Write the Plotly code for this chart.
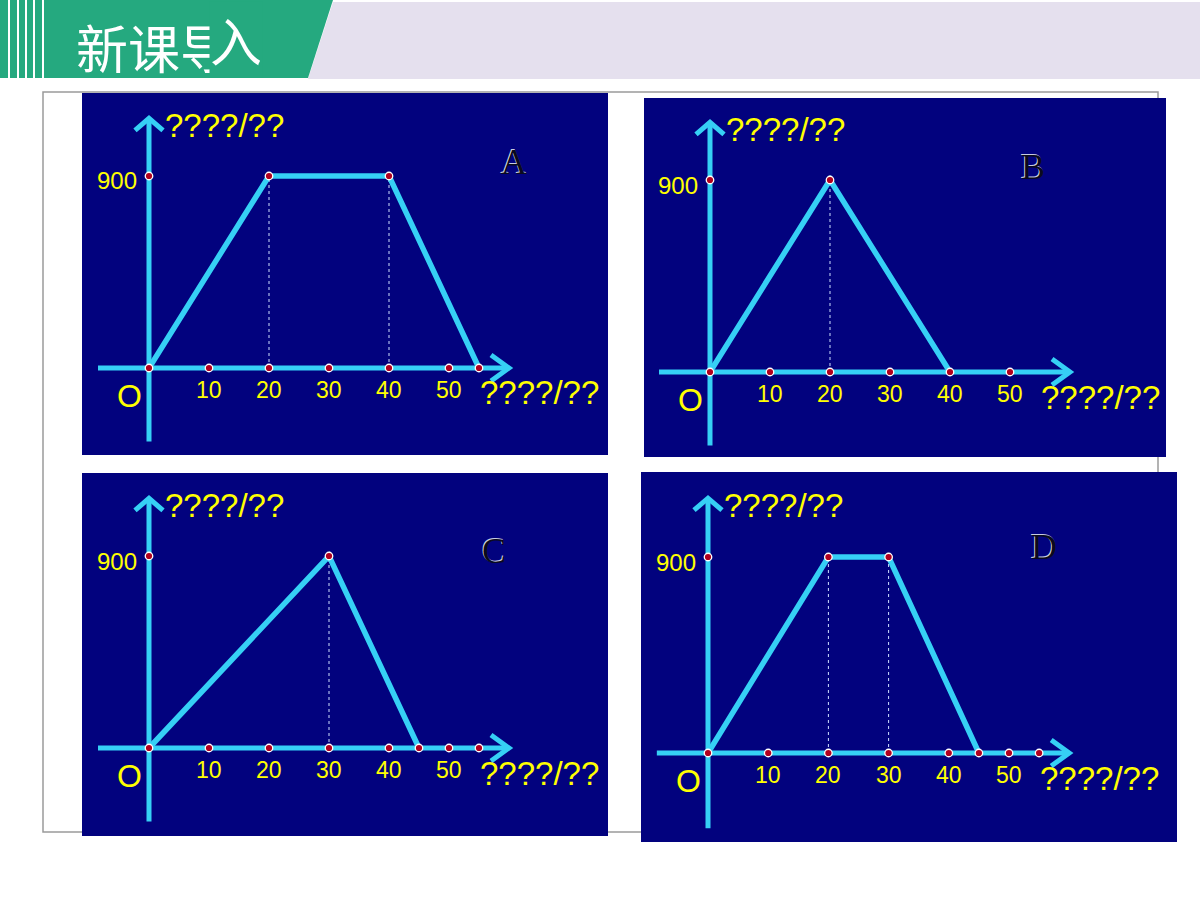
import plotly.graph_objects as go

W, H = 1200, 900

# ---------------- data ----------------
panel_names = ["A", "B", "C", "D"]
A_time = [0, 20, 40, 55]
A_dist = [0, 900, 900, 0]
B_time = [0, 20, 40]
B_dist = [0, 900, 0]
C_time = [0, 30, 45]
C_dist = [0, 900, 0]
D_time = [0, 20, 30, 45]
D_dist = [0, 900, 900, 0]
A_axis_dots = [0, 10, 20, 30, 40, 50, 55]
B_axis_dots = [0, 10, 20, 30, 40, 50]
C_axis_dots = [0, 10, 20, 30, 40, 45, 50, 55]
D_axis_dots = [0, 10, 20, 30, 40, 45, 50, 55]
A_guides = [20, 40]
B_guides = [20]
C_guides = [30]
D_guides = [20, 30]
x_tick_labels = [10, 20, 30, 40, 50]
y_tick_value = 900
y_axis_label = "????/??"
x_axis_label = "????/??"
origin_label = "O"
title_main = "新课导"
title_last = "入"

series = {
    "A": (A_time, A_dist, A_axis_dots, A_guides),
    "B": (B_time, B_dist, B_axis_dots, B_guides),
    "C": (C_time, C_dist, C_axis_dots, C_guides),
    "D": (D_time, D_dist, D_axis_dots, D_guides),
}

# ---------------- layout geometry (pixels) ----------------
geom = {
    "A": dict(rect=(82, 93, 608, 455), o=(149, 368), sx=6.0, sy=192 / 900, letter=(514, 162)),
    "B": dict(rect=(644, 98, 1166, 457), o=(710, 372), sx=6.0, sy=192 / 900, letter=(1033, 167)),
    "C": dict(rect=(82, 473, 608, 836), o=(149, 748), sx=6.0, sy=192 / 900, letter=(494, 551)),
    "D": dict(rect=(641, 472, 1177, 842), o=(708, 753), sx=6.02, sy=196 / 900, letter=(1044, 547)),
}
X_AX_MIN, X_AX_MAX = -8.5, 60
Y_AX_MIN, Y_AX_MAX = -345, 1170

NAVY = "#02027E"
CYAN = "#36D0F5"
YELLOW = "#FFFF00"
DOT = "#B0001E"
GREEN = "#25A97F"
LAV = "#E5E0EE"
SANS = "Liberation Sans, Arial, sans-serif"
SERIF = "Liberation Serif, Times New Roman, serif"
CJK = "Noto Sans CJK SC, sans-serif"


def px(x):
    return x / W


def py(y):
    return 1 - y / H


fig = go.Figure()
shapes = []
annotations = []

# header
shapes.append(dict(type="path", xref="paper", yref="paper", layer="below",
                   path=f"M {px(333)},{py(2)} L {px(1200)},{py(2)} L {px(1200)},{py(79)} L {px(308)},{py(79)} Z",
                   fillcolor=LAV, line=dict(width=0)))
shapes.append(dict(type="path", xref="paper", yref="paper", layer="below",
                   path=f"M 0,{py(0)} L {px(333)},{py(0)} L {px(308)},{py(78)} L 0,{py(78)} Z",
                   fillcolor=GREEN, line=dict(width=0)))
for sxp in [8, 17, 25, 33, 42]:
    shapes.append(dict(type="rect", xref="paper", yref="paper", layer="below",
                       x0=px(sxp), x1=px(sxp + 2), y0=py(0), y1=py(78),
                       fillcolor="white", line=dict(width=0)))
# frame
shapes.append(dict(type="rect", xref="paper", yref="paper", layer="below",
                   x0=px(43), x1=px(1158), y0=py(832), y1=py(92),
                   fillcolor="rgba(0,0,0,0)", line=dict(color="#9a9a9a", width=1.5)))

annotations.append(dict(xref="paper", yref="paper", x=px(74), y=py(47), xanchor="left", yanchor="middle",
                        text=title_main, showarrow=False,
                        font=dict(family=CJK, size=52, color="white")))
annotations.append(dict(xref="paper", yref="paper", x=px(236), y=py(78), xanchor="center", yanchor="bottom",
                        text=title_last, showarrow=False, bgcolor=GREEN, borderpad=0,
                        font=dict(family=CJK, size=52, color="white")))

layout_axes = {}
for i, name in enumerate(panel_names):
    g = geom[name]
    x0, y0, x1, y1 = g["rect"]
    ox, oy = g["o"]
    sx, sy = g["sx"], g["sy"]
    times, dists, axis_dots, guides = series[name]
    xa = "x" if i == 0 else f"x{i + 1}"
    ya = "y" if i == 0 else f"y{i + 1}"
    xkey = "xaxis" if i == 0 else f"xaxis{i + 1}"
    ykey = "yaxis" if i == 0 else f"yaxis{i + 1}"

    shapes.append(dict(type="rect", xref="paper", yref="paper", layer="below",
                       x0=px(x0), x1=px(x1), y0=py(y1), y1=py(y0),
                       fillcolor=NAVY, line=dict(width=0)))

    layout_axes[xkey] = dict(domain=[px(x0), px(x1)], range=[(x0 - ox) / sx, (x1 - ox) / sx],
                             visible=False, fixedrange=True, anchor=ya)
    layout_axes[ykey] = dict(domain=[py(y1), py(y0)], range=[-(y1 - oy) / sy, (oy - y0) / sy],
                             visible=False, fixedrange=True, anchor=xa)

    gx, gy = [], []
    for t in guides:
        gx += [t, t, None]
        gy += [0, y_tick_value, None]
    fig.add_trace(go.Scatter(x=gx, y=gy, mode="lines", xaxis=xa, yaxis=ya,
                             line=dict(color="#CFE0FF", width=1, dash="dot"),
                             hoverinfo="skip", showlegend=False))
    fig.add_trace(go.Scatter(x=[X_AX_MIN, X_AX_MAX, None, 0, 0], y=[0, 0, None, Y_AX_MIN, Y_AX_MAX],
                             mode="lines", xaxis=xa, yaxis=ya,
                             line=dict(color=CYAN, width=5), hoverinfo="skip", showlegend=False))
    ax_dx, ax_dy = 18 / sx, 13 / sy
    ay_dx, ay_dy = 14 / sx, 12 / sy
    fig.add_trace(go.Scatter(
        x=[X_AX_MAX - ax_dx, X_AX_MAX, X_AX_MAX - ax_dx, None, -ay_dx, 0, ay_dx],
        y=[ax_dy, 0, -ax_dy, None, Y_AX_MAX - ay_dy, Y_AX_MAX, Y_AX_MAX - ay_dy],
        mode="lines", xaxis=xa, yaxis=ya,
        line=dict(color=CYAN, width=5), hoverinfo="skip", showlegend=False))
    fig.add_trace(go.Scatter(x=times, y=dists, mode="lines", xaxis=xa, yaxis=ya,
                             line=dict(color=CYAN, width=5.5), name=name, showlegend=False))
    dx = list(axis_dots) + [0] + [t for t, d in zip(times, dists) if d == y_tick_value]
    dy = [0] * len(axis_dots) + [y_tick_value] + [d for d in dists if d == y_tick_value]
    fig.add_trace(go.Scatter(x=dx, y=dy, mode="markers", xaxis=xa, yaxis=ya,
                             marker=dict(color=DOT, size=7.5, line=dict(color="white", width=1.3)),
                             hoverinfo="skip", showlegend=False))

    annotations.append(dict(xref=xa, yref=ya, x=0, y=Y_AX_MAX, xanchor="left", yanchor="middle",
                            xshift=14, yshift=-7, text=y_axis_label, showarrow=False,
                            font=dict(family=SANS, size=33, color=YELLOW)))
    annotations.append(dict(xref=xa, yref=ya, x=X_AX_MAX, y=0, xanchor="left", yanchor="middle",
                            xshift=-31, yshift=-25, text=x_axis_label, showarrow=False,
                            font=dict(family=SANS, size=33, color=YELLOW)))
    for t in x_tick_labels:
        annotations.append(dict(xref=xa, yref=ya, x=t, y=0, xanchor="center", yanchor="middle",
                                yshift=-22, text=str(t), showarrow=False,
                                font=dict(family=SANS, size=23, color=YELLOW)))
    annotations.append(dict(xref=xa, yref=ya, x=0, y=y_tick_value, xanchor="right", yanchor="middle",
                            xshift=-10, yshift=-5, text=str(y_tick_value), showarrow=False,
                            font=dict(family=SANS, size=24, color=YELLOW)))
    annotations.append(dict(xref=xa, yref=ya, x=0, y=0, xanchor="center", yanchor="middle",
                            xshift=-20, yshift=-28, text=origin_label, showarrow=False,
                            font=dict(family=SANS, size=32, color=YELLOW)))
    lx, ly = g["letter"]
    annotations.append(dict(xref="paper", yref="paper", x=px(lx), y=py(ly), xanchor="center",
                            yanchor="middle", xshift=-1.5, yshift=1, text=name, showarrow=False,
                            font=dict(family=SERIF, size=36, color="#C8CCE0")))
    annotations.append(dict(xref="paper", yref="paper", x=px(lx), y=py(ly), xanchor="center",
                            yanchor="middle", text=name, showarrow=False,
                            font=dict(family=SERIF, size=36, color="#0A0A1E")))

fig.update_layout(
    width=W, height=H, autosize=False,
    margin=dict(l=0, r=0, t=0, b=0),
    paper_bgcolor="white", plot_bgcolor="rgba(0,0,0,0)",
    shapes=shapes, annotations=annotations, showlegend=False,
    **layout_axes,
)

fig.write_html("out.html", config={"displayModeBar": False, "staticPlot": True},
               post_script="document.body.style.margin='0';document.body.style.overflow='hidden';")
